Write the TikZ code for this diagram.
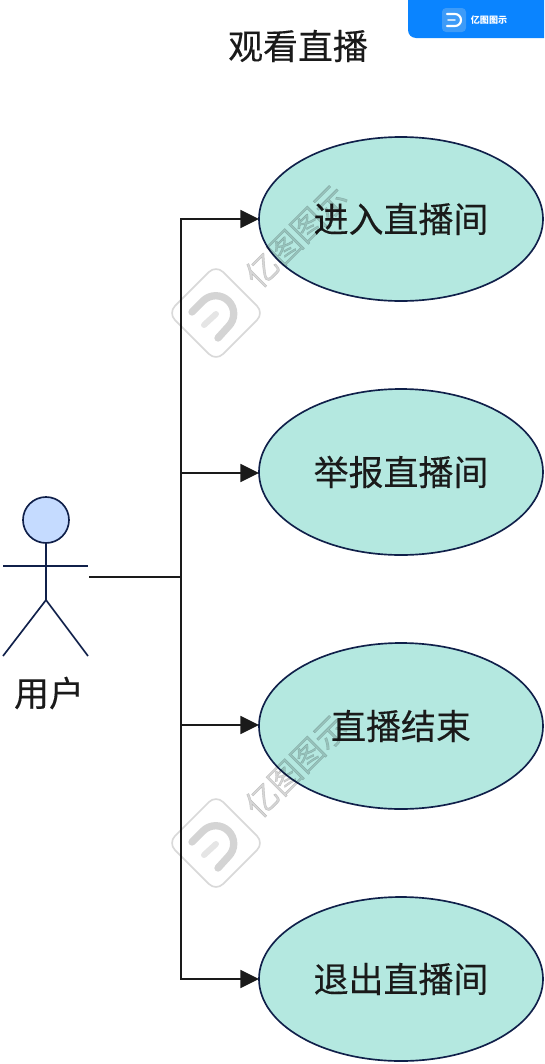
\documentclass[tikz,border=0pt]{standalone}
\usepackage{fontspec}
\setmainfont{Noto Sans CJK SC}
\newfontfamily\capfont[FakeBold=0.25]{Noto Sans CJK SC}
\newfontfamily\wmfont[FakeBold=1.2]{Noto Sans CJK SC}
\usepackage{xcolor}
\usetikzlibrary{arrows.meta,shapes.geometric}
\definecolor{usecasefill}{HTML}{B4E8E0}
\definecolor{outline}{HTML}{10204A}
\definecolor{headfill}{HTML}{C5DBFF}
\definecolor{ink}{HTML}{1A1A1A}
\definecolor{barblue}{HTML}{0A84FF}
\definecolor{iconblue}{HTML}{3D9BF8}

\begin{document}
\begin{tikzpicture}[x=0.75pt, y=-0.75pt, line width=1.25pt, >={Triangle[length=14pt,width=13.5pt]},
  usecase/.style={ellipse, draw=outline, fill=usecasefill, minimum width=213pt, minimum height=123pt, inner sep=0pt, outer sep=0pt, text=ink, font=\capfont\fontsize{26.2}{30}\selectfont},
  tallcase/.style={usecase, minimum height=124.5pt},
  caption/.style={text=ink, inner sep=0pt, font=\capfont\fontsize{26.2}{30}\selectfont},
  limb/.style={draw=outline},
  conn/.style={draw=ink},
  wmtext/.style={opacity=0.16, text=black, inner sep=0pt, font=\wmfont\fontsize{24}{26}\selectfont},
  badge/.style={rectangle, rotate=45, draw=black, opacity=0.15, rounded corners=7.5pt, minimum size=51pt, inner sep=0pt}]
\useasboundingbox (0,0) rectangle (544,1064);
\node[caption] (title) at (298,46) {观看直播};
\node[usecase] (enter)  at (401,219) {进入直播间};
\node[tallcase] (report) at (401,472) {举报直播间};
\node[tallcase] (finish) at (401,726) {直播结束};
\node[usecase] (leave)  at (401,979) {退出直播间};
% actor
\node[circle, draw=outline, fill=headfill, minimum size=34.5pt, inner sep=0pt, outer sep=0pt] (head) at (46,520) {};
\coordinate (hip) at (46,600);
\coordinate (armL) at (3,566);
\coordinate (armR) at (88,566);
\coordinate (footL) at (3,656);
\coordinate (footR) at (88,656);
\draw[limb] (head.south) -- (hip);
\draw[limb] (armL) -- (armR);
\draw[limb] (footL) -- (hip) -- (footR);
\node[caption] (user) at (49,693) {用户};
% connectors
\coordinate (hand) at (89,577);
\coordinate (trunk) at (181,577);
\draw[conn] (hand) -- (trunk);
\draw[conn, ->] (trunk) |- (enter.west);
\draw[conn, ->] (trunk) |- ([yshift=-0.75pt]report.west);
\draw[conn, ->] (trunk) |- ([yshift=0.75pt]finish.west);
\draw[conn, ->] (trunk) |- (leave.west);
% watermarks
\foreach \wy/\wname in {0/upper,530/lower}{
  \node[badge] (badge\wname) at (216,313+\wy) {};
  \draw[black, opacity=0.17, line width=5.5pt, line cap=round] (192,312+\wy) -- (203,301+\wy) arc[start angle=225, end angle=405, radius=18] -- (218,338+\wy);
  \draw[black, opacity=0.10, line width=4.5pt, line cap=round] (204,325+\wy) -- (216,314+\wy);
  \node[wmtext, rotate=45] (mark\wname) at (296,236+\wy) {亿图图示};
}
% top bar
\fill[barblue] (408,0) -- (544,0) -- (544,38) -- (416,38) arc[start angle=90, end angle=180, radius=8] -- cycle;
\node[rectangle, fill=iconblue, rounded corners=3pt, minimum size=18pt, inner sep=0pt] (icon) at (454,20) {};
\draw[white, line width=1.6pt, line cap=round] (447,14) -- (455,14) arc[start angle=270, end angle=450, radius=6] -- (447,26);
\draw[white, opacity=0.7, line width=1.3pt, line cap=round] (448,20) -- (455,20);
\node[inner sep=0pt, text=white, font=\bfseries\fontsize{6.8}{8}\selectfont] (brand) at (489,20) {亿图图示};
\end{tikzpicture}
\end{document}
